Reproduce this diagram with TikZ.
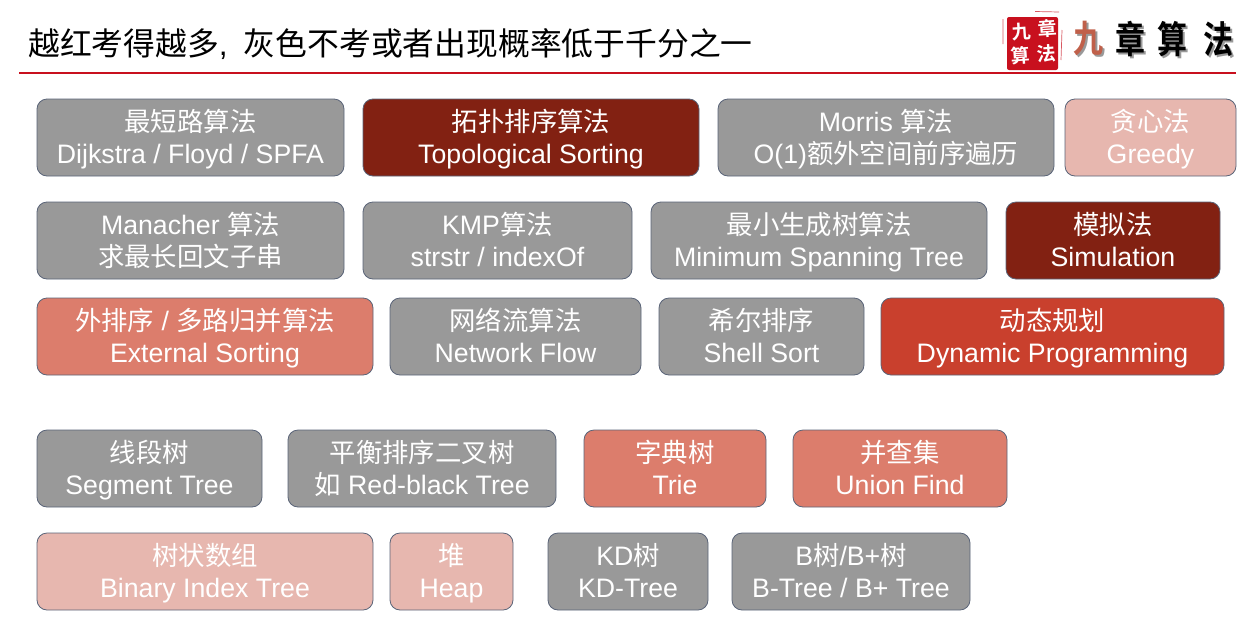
\documentclass[tikz,border=0pt]{standalone}
\usepackage{fontspec}
\setmainfont{Liberation Sans}
\newfontfamily\cjk{Noto Sans CJK SC}
\newfontfamily\cjkbold{Noto Sans CJK SC Bold}
\newcommand{\zh}[1]{{\cjk\fontsize{26.4}{32}\selectfont #1}}
\newcommand{\upperstrut}{\rule[-8pt]{0pt}{35pt}}
\newcommand{\lowerstrut}{\rule[-8pt]{0pt}{32pt}}
\definecolor{greybox}{HTML}{999999}
\definecolor{darkbox}{HTML}{822112}
\definecolor{redbox}{HTML}{C9402D}
\definecolor{salmonbox}{HTML}{DC7D6C}
\definecolor{pinkbox}{HTML}{E7B7AF}
\definecolor{boxline}{HTML}{5A6478}
\definecolor{rulered}{HTML}{C8101E}
\definecolor{brushred}{HTML}{C0604A}
\tikzset{
  x=1pt,y=-1pt,
  topic/.style={draw=boxline,line width=0.8pt,rounded corners=10pt,text=white,align=center,
    inner sep=0pt,font=\fontsize{26.7}{32}\selectfont},
  logochar/.style={font=\cjkbold\fontsize{30}{30}\selectfont,inner sep=0pt,yscale=1.25},
  logoshadow/.style={logochar,text=black!40},
  sealchar/.style={font=\cjkbold\fontsize{19}{19}\selectfont,text=white,inner sep=0pt,rotate=4}
}
% A topic tile: name, fill, left, top, right, bottom, first line, second line
\newcommand{\tile}[8]{%
  \node[topic,fill=#2,minimum width=#5pt-#3pt,minimum height=#6pt-#4pt] (#1)
    at ({(#3+#5)/2},{(#4+#6)/2}) {\upperstrut #7\\\lowerstrut #8};}
\begin{document}
\begin{tikzpicture}
\useasboundingbox (0,0) rectangle (1253,635);
% heading and rule
\node[anchor=west,inner sep=0pt,font=\cjk\fontsize{31.8}{32}\selectfont] (heading) at (28,44)
  {越红考得越多{\rmfamily,}\hspace{16pt}灰色不考或者出现概率低于千分之一};
\coordinate (ruleL) at (19,72.5);
\coordinate (ruleR) at (1236,72.5);
\draw[rulered,line width=2pt] (ruleL) -- (ruleR);
% logo: seal and brush lettering
\draw[rulered!70,line width=0.7pt] (1003,19) -- (1003,44) (1035,11.5) -- (1059,12) (1062,30) -- (1061,60);
\node[fill=rulered,minimum width=51pt,minimum height=53pt,inner sep=0pt,rounded corners=2pt] (seal) at (1032.5,43.5) {};
\node[sealchar] (s1) at (1021,32) {九};
\node[sealchar] (s2) at (1047,29) {章};
\node[sealchar] (s3) at (1020,56) {算};
\node[sealchar] (s4) at (1046,54) {法};
\node[logoshadow] (h1) at (1090,41) {九};
\node[logoshadow] (h2) at (1132,41) {章};
\node[logoshadow] (h3) at (1174,41) {算};
\node[logoshadow] (h4) at (1220,41) {法};
\node[logochar,text=brushred] (l1) at (1088,39) {九};
\node[logochar] (l2) at (1130,39) {章};
\node[logochar] (l3) at (1172,39) {算};
\node[logochar] (l4) at (1218,39) {法};
% first group
\tile{a1}{greybox}{37}{99}{344}{176}{\zh{最短路算法}}{Dijkstra / Floyd / SPFA}
\tile{a2}{darkbox}{363}{99}{699}{176}{\zh{拓扑排序算法}}{Topological Sorting}
\tile{a3}{greybox}{718}{99}{1054}{176}{Morris \zh{算法}}{O(1)\zh{额外空间前序遍历}}
\tile{a4}{pinkbox}{1065}{99}{1236}{176}{\zh{贪心法}}{Greedy}
\tile{b1}{greybox}{37}{202}{344}{279}{Manacher \zh{算法}}{\zh{求最长回文子串}}
\tile{b2}{greybox}{363}{202}{632}{279}{KMP\zh{算法}}{strstr / indexOf}
\tile{b3}{greybox}{651}{202}{987}{279}{\zh{最小生成树算法}}{Minimum Spanning Tree}
\tile{b4}{darkbox}{1006}{202}{1220}{279}{\zh{模拟法}}{Simulation}
\tile{c1}{salmonbox}{37}{298}{373}{375}{\zh{外排序} / \zh{多路归并算法}}{External Sorting}
\tile{c2}{greybox}{390}{298}{641}{375}{\zh{网络流算法}}{Network Flow}
\tile{c3}{greybox}{659}{298}{864}{375}{\zh{希尔排序}}{Shell Sort}
\tile{c4}{redbox}{881}{298}{1224}{375}{\zh{动态规划}}{Dynamic Programming}
% second group
\tile{d1}{greybox}{37}{430}{262}{507}{\zh{线段树}}{Segment Tree}
\tile{d2}{greybox}{288}{430}{556}{507}{\zh{平衡排序二叉树}}{\zh{如} Red-black Tree}
\tile{d3}{salmonbox}{584}{430}{766}{507}{\zh{字典树}}{Trie}
\tile{d4}{salmonbox}{793}{430}{1007}{507}{\zh{并查集}}{Union Find}
\tile{e1}{pinkbox}{37}{533}{373}{610}{\zh{树状数组}}{Binary Index Tree}
\tile{e2}{pinkbox}{390}{533}{513}{610}{\zh{堆}}{Heap}
\tile{e3}{greybox}{548}{533}{708}{610}{KD\zh{树}}{KD-Tree}
\tile{e4}{greybox}{732}{533}{970}{610}{B\zh{树}/B+\zh{树}}{B-Tree / B+ Tree}
\end{tikzpicture}
\end{document}
